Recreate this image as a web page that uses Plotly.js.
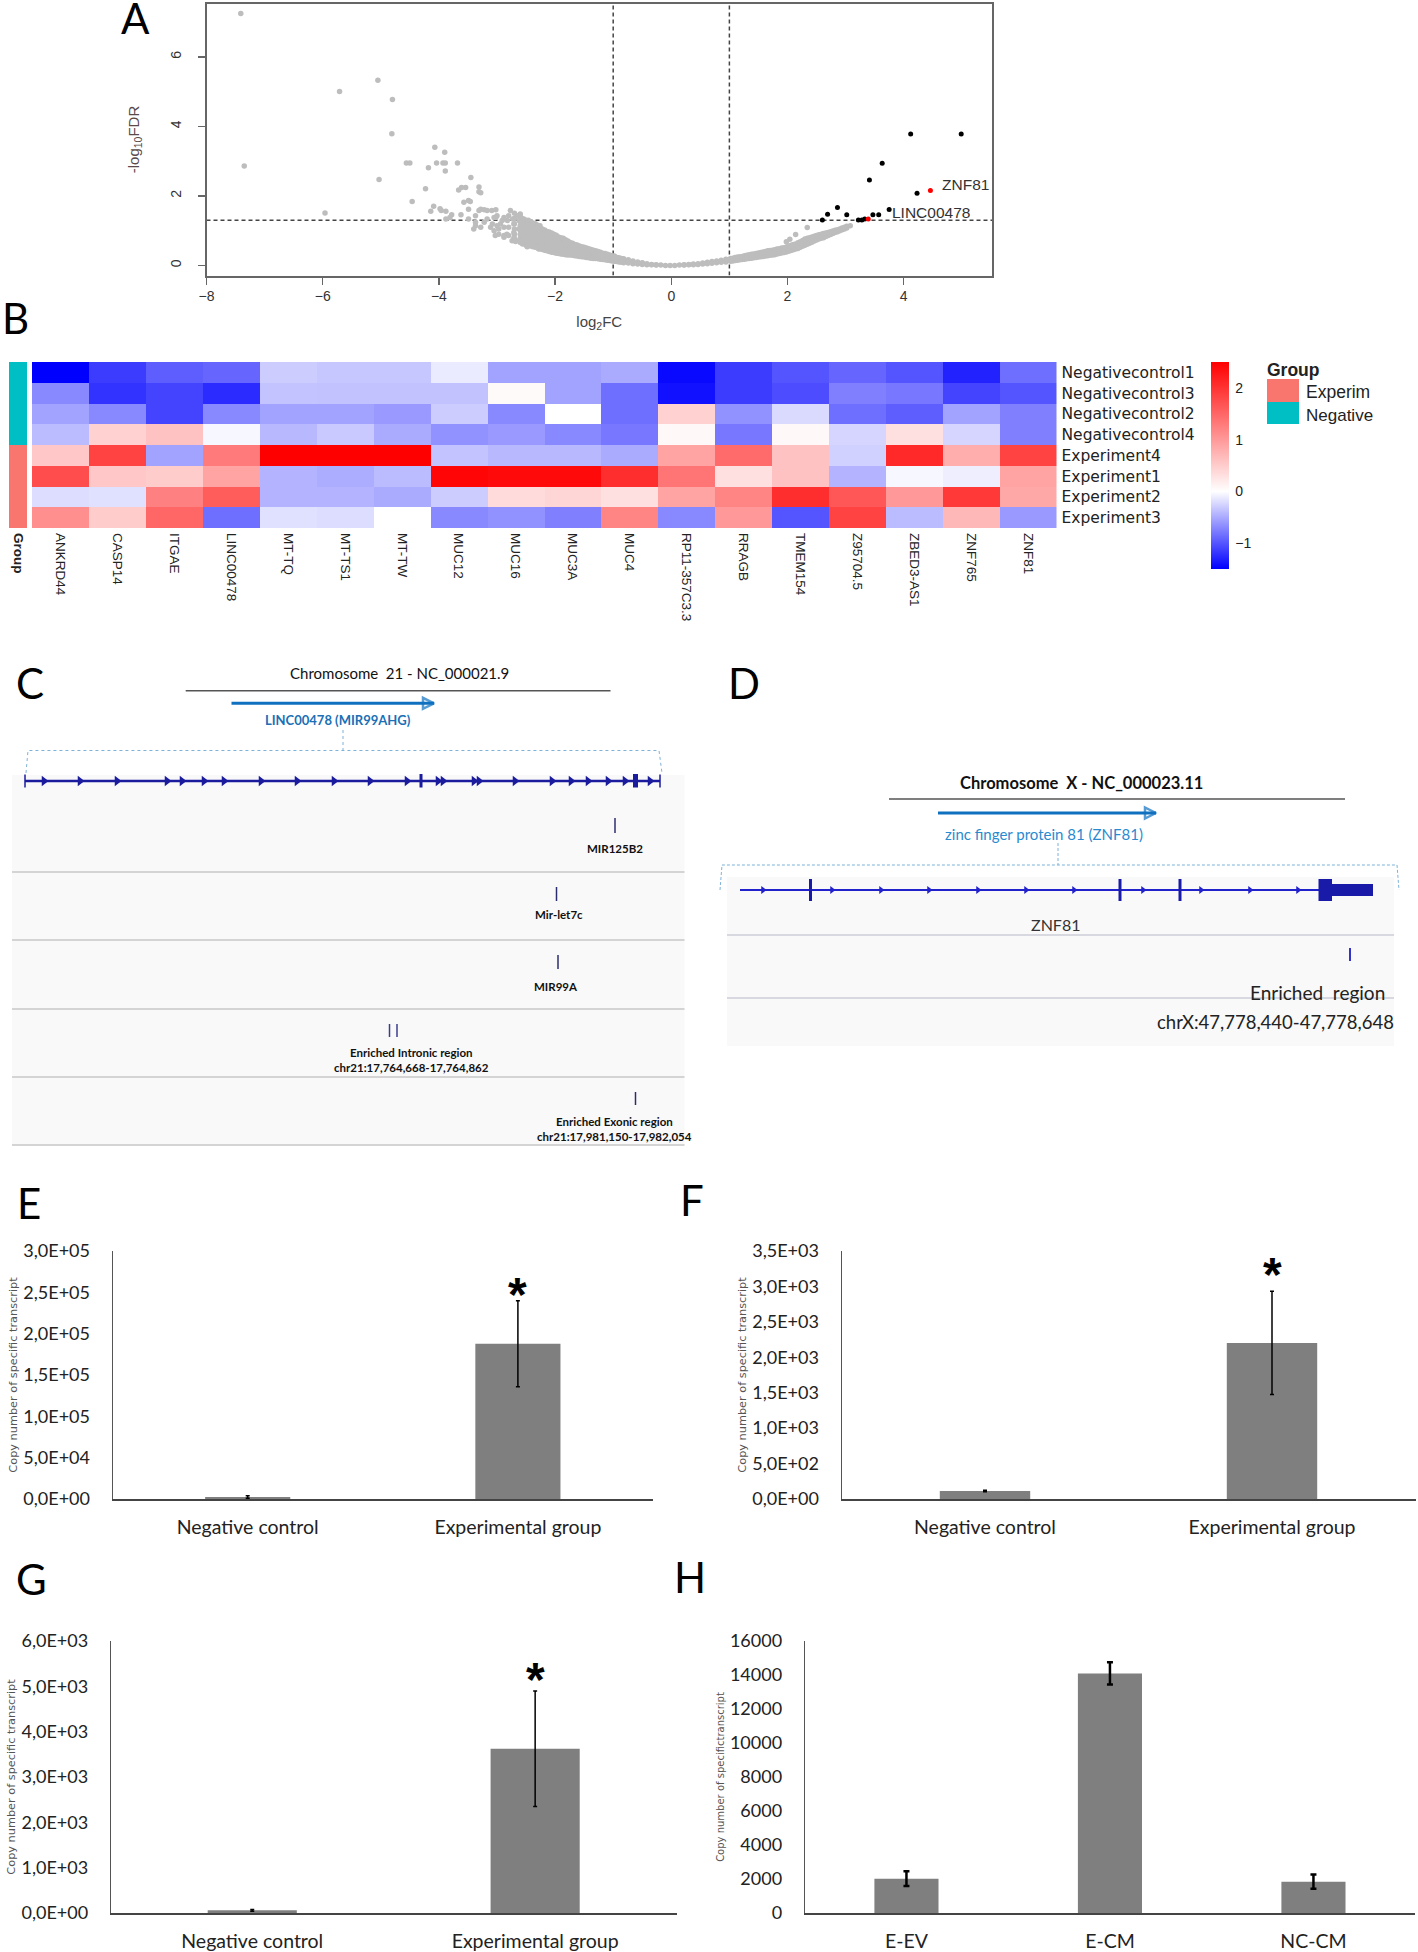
<!DOCTYPE html>
<html><head><meta charset="utf-8">
<script src="https://cdn.plot.ly/plotly-3.0.1.min.js"></script>
<style>html,body{margin:0;padding:0;background:#fff}#g{width:1418px;height:1952px}</style>
</head><body><div id="g"></div>
<script>
// ---------- Panel A: volcano ----------
const bandX = [-2.7,-2.6,-2.5,-2.42,-2.34,-2.26,-2.18,-2.1,-2.02,-1.94,-1.86,-1.78,-1.7,-1.62,-1.54,-1.46,-1.38,-1.3,-1.22,-1.14,-1.06,-.98,-.9,-.82,-.74,-.66,-.58,-.5,-.42,-.34,-.26,-.18,-.1,-.02,.06,.14,.22,.3,.38,.46,.54,.62,.7,.78,.86,.94,1.02,1.1,1.18,1.26,1.34,1.42,1.5,1.58,1.66,1.74,1.82,1.9,1.98,2.06,2.14,2.22,2.3,2.38,2.46,2.54,2.62,2.7,2.78,2.86,2.94,3.02,3.08];
const bandY = [[.78,.9,1.05,1.2,1.35,1.5],[.66,.78,.9,1.02,1.14,1.26,1.4,1.48],[.58,.7,.82,.94,1.06,1.18,1.3],[.56,.68,.8,.92,1.04,1.16,1.26],[.52,.64,.76,.88,1,1.12,1.2],[.48,.6,.72,.84,.96,1.08,1.14],[.44,.56,.68,.8,.92,1.02],[.4,.52,.64,.76,.88,.96],[.37,.49,.61,.73,.85,.9],[.34,.46,.58,.7,.82],[.32,.42,.52,.62,.72,.78],[.3,.4,.5,.6,.7],[.29,.38,.47,.56,.64],[.27,.35,.43,.51,.59],[.25,.33,.41,.49,.54],[.23,.3,.37,.44,.5],[.21,.28,.35,.42,.46],[.2,.26,.32,.38,.42],[.18,.24,.3,.36,.38],[.16,.22,.28,.34],[.14,.2,.26,.3],[.12,.18,.24,.27],[.1,.16,.22],[.08,.14,.19],[.07,.12,.16],[.05,.09,.13],[.04,.07,.1],[.03,.06,.08],[.02,.05],[.02,.03],[.01,.02],[.01],[0],[0],[0],[.01],[.01,.02],[.02,.03],[.02,.04],[.03,.05],[.04,.07],[.05,.09],[.06,.11],[.08,.13],[.09,.15],[.1,.18],[.12,.2],[.14,.23],[.16,.25],[.18,.28],[.2,.31],[.22,.33],[.24,.36],[.26,.39],[.28,.42],[.3,.44],[.33,.47],[.36,.5],[.39,.53],[.43,.58],[.47,.62],[.52,.68],[.58,.76],[.64,.8],[.7,.84],[.76,.88],[.8,.92],[.86,.95],[.92,.99],[.97,1.03],[1.03,1.08],[1.08,1.13],[1.14]];
const band2X = [-2.56,-2.46,-2.38,-2.3,-2.22,-2.14,-2.06,-1.98,-1.9,-1.82,-1.74,-1.66,-1.58,-1.5,-1.42,-1.34,-1.26,-1.18,-1.1,-1.02,-.94,-.86,1.06,1.14,1.22,1.3,1.38,1.46,1.54,1.62,1.7,1.78,1.86,1.94,2.02,2.1,2.18,2.26,2.34,2.42,2.5,2.58,2.66,2.74,2.82,2.9,2.98];
const band2Y = [[.62,.74,.86,.98,1.1,1.22,1.34],[.6,.72,.84,.96,1.08,1.2,1.3],[.54,.66,.78,.9,1.02,1.14,1.22],[.5,.62,.74,.86,.98,1.1,1.16],[.46,.58,.7,.82,.94,1.05],[.42,.54,.66,.78,.9,.98],[.38,.5,.62,.74,.86,.93],[.35,.47,.59,.71,.83,.87],[.33,.44,.55,.66,.77,.8],[.31,.41,.51,.61,.71,.74],[.3,.39,.48,.57,.66],[.28,.36,.44,.52,.6],[.26,.34,.42,.5,.56],[.24,.31,.38,.45,.52],[.22,.29,.36,.43,.48],[.2,.27,.33,.39,.44],[.19,.25,.31,.37,.4],[.17,.23,.29,.35],[.15,.21,.27,.32],[.13,.19,.25,.28],[.11,.17,.23],[.09,.15,.2],[.13,.21],[.15,.24],[.17,.26],[.19,.29],[.21,.32],[.23,.34],[.25,.37],[.27,.4],[.29,.43],[.31,.36,.45],[.34,.42,.48],[.37,.45,.51],[.41,.48,.56],[.45,.53,.6],[.49,.58,.65],[.55,.64,.72],[.61,.7,.78],[.67,.76,.82],[.73,.81,.86],[.78,.85,.9],[.83,.93],[.89,.97],[.95,1.01],[1,1.05],[1.05,1.1]];
const scatterX = [-7.41,-7.35,-5.96,-5.71,-5.05,-4.8,-4.81,-5.03,-4.07,-3.9,-4.56,-4.5,-4.04,-3.93,-3.89,-3.68,-4.18,-3.89,-3.45,-4.23,-3.66,-3.61,-3.54,-3.31,-3.31,-3.28,-4.46,-3.57,-3.49,-3.46,-4.09,-3.98,-3.96,-3.88,-4.14,-3.78,-3.62,-3.81,-3.88,-3.49,-3.28,-3.22,-3.31,-3.17,-3.09,-3.02,-3.49,-3.37,-3.37,-3.4,-3.37,-3.28,-3.22,-3.11,-3.03,-3.05,-2.94,-3.02,-2.88,-2.77,-2.8,-2.65,-2.59,-2.97,-2.88,-2.74,-2.83,-2.68,-2.48,-2.28,2.34,2.14,2.04,1.98,-3.17,-3.05,-3,-2.91,-2.82,-2.73,-2.71,-2.62,-2.54,-3.08,-3,-2.88,-2.8,-2.71,-2.62,-2.57,-2.48,-2.51,-2.97,-2.88,-2.8,-2.71,-2.62,-2.4,-2.31,-2.25];
const scatterY = [7.25,2.86,1.51,5.01,5.33,4.78,3.79,2.47,3.4,3.26,2.95,2.95,2.95,2.95,2.95,2.95,2.81,2.72,2.53,2.21,2.17,2.24,2.24,2.26,2.12,2.09,1.84,1.82,1.87,1.84,1.7,1.63,1.58,1.56,1.56,1.46,1.46,1.38,1.34,1.62,1.62,1.6,1.58,1.58,1.58,1.6,1.34,1.43,1.24,1.05,1.14,1.1,1.24,1.1,.86,1,1.19,1.38,1.38,1.58,1.43,1.43,1.38,1.05,.86,.71,.9,.69,.54,.47,1.09,.89,.75,.68,1.34,1.38,1.43,1.29,1.29,1.34,1.19,1.29,1.34,1.19,1.14,1.1,1.1,.95,1.05,.9,.81,1.1,.9,.81,.86,.79,.71,.62,.52,.71];
const sigX = [4.12,4.99,3.63,3.41,4.23,2.86,2.69,3.02,2.6,3.75,3.47,3.57,3.22,3.28,3.33];
const sigY = [3.78,3.78,2.94,2.46,2.08,1.67,1.47,1.46,1.31,1.61,1.46,1.46,1.31,1.31,1.34];
const redX = [4.46,3.39];
const redY = [2.16,1.34];
const fcCut = [-1,1];
const fdrCut = 1.3;

// ---------- Panel B: heatmap ----------
const genes = ["ANKRD44","CASP14","ITGAE","LINC00478","MT-TQ","MT-TS1","MT-TW","MUC12","MUC16","MUC3A","MUC4","RP11-357C3.3","RRAGB","TMEM154","Z95704.5","ZBED3-AS1","ZNF765","ZNF81"];
const samples = ["Negativecontrol1","Negativecontrol3","Negativecontrol2","Negativecontrol4","Experiment4","Experiment1","Experiment2","Experiment3"];
const heat = [
[-1.5,-1.15,-.95,-.9,-.3,-.33,-.33,-.12,-.55,-.55,-.5,-1.45,-1.15,-1,-.9,-1,-1.3,-.85],
[-.7,-1.2,-1.1,-1.25,-.35,-.36,-.36,-.36,.05,-.55,-.85,-1.4,-1.15,-1.05,-.75,-.8,-1.1,-1],
[-.55,-.7,-1.1,-.7,-.55,-.55,-.6,-.3,-.7,0,-.85,.45,-.65,-.22,-.85,-.95,-.55,-.75],
[-.4,.45,.6,-.05,-.42,-.32,-.5,-.65,-.6,-.7,-.8,.07,-.8,.07,-.25,.3,-.25,-.75],
[.55,1.85,-.55,1.3,2.5,2.5,2.5,-.35,-.42,-.42,-.5,.9,1.45,.6,-.27,2.1,.8,1.85],
[1.75,.55,.5,.9,-.45,-.48,-.4,2.45,2.4,2.4,2.05,1.35,.3,.6,-.45,-.05,-.1,.9],
[-.2,-.18,1.25,1.6,-.45,-.45,-.5,-.3,.35,.4,.3,.9,1.2,2.05,1.65,1,1.95,.85],
[1.1,.5,1.5,-.85,-.18,-.2,0,-.7,-.65,-.75,1.2,-.7,1,-1,1.85,-.4,.7,-.6]];
const groupCodes = [[0],[0],[0],[0],[1],[1],[1],[1]];
const groupNames = ["Experim","Negative"];
const barTicks = [-1,0,1,2];

// ---------- Panels E-H: bars ----------
const twoGroups = ["Negative control","Experimental group"];
const eVals = [2500,187700], eErr = [1500,52000];
const eTicks = [0,5e4,1e5,1.5e5,2e5,2.5e5,3e5], eText = ["0,0E+00","5,0E+04","1,0E+05","1,5E+05","2,0E+05","2,5E+05","3,0E+05"];
const fVals = [113,2203], fErr = [10,728];
const fTicks = [0,500,1000,1500,2000,2500,3000,3500], fText = ["0,0E+00","5,0E+02","1,0E+03","1,5E+03","2,0E+03","2,5E+03","3,0E+03","3,5E+03"];
const gVals = [59,3622], gErr = [20,1273];
const gTicks = [0,1000,2000,3000,4000,5000,6000], gText = ["0,0E+00","1,0E+03","2,0E+03","3,0E+03","4,0E+03","5,0E+03","6,0E+03"];
const hCats = ["E-EV","E-CM","NC-CM"];
const hVals = [2022,14095,1845], hErr = [440,660,420];
const hTicks = [0,2000,4000,6000,8000,10000,12000,14000,16000];

// ---------- Panels C, D: gene tracks (positions on the track scale) ----------
const cArrows = [44,80,117,167,182,204,224,261,297,334,370,407,438,443,474,479,515,552,571,588,608,625,650];
const cExons = [[421,3],[635.5,5]];
const cHits = [[615,818,833,"#2c2c70"],[556.5,887,901,"#2c2c70"],[558,955,969,"#2c2c70"],[389.5,1024,1037,"#3c3c90"],[397,1024,1037,"#3c3c90"],[635.5,1092,1105,"#2c2c70"]];
const cSeparators = [872,940,1009,1077,1145];
const dArrows = [763,832,881,929,978,1026,1074,1143,1201,1250,1298];
const dExons = [810.5,1120,1180];
const dSeparators = [935,998];

// ---------- helpers ----------
const W = 1418, H = 1952;
const dx = (a,b) => [a/W,b/W];
const dy = (a,b) => [1-b/H,1-a/H];
const LATO = "Lato, Carlito, sans-serif", ARIAL = "'Liberation Sans', Arial, sans-serif";
const traces = [], ann = [], shapes = [], layout = {};

function line(x,y,color,width,dash){ traces.push({type:"scatter",mode:"lines",x,y,xaxis:"x9",yaxis:"y9",hoverinfo:"skip",line:{color,width,dash:dash||"solid"}}); }
function txt(x,y,text,size,color,o){ ann.push(Object.assign({xref:"x9",yref:"y9",x,y,text,showarrow:false,xanchor:"center",yanchor:"middle",font:{family:LATO,size,color}},o||{})); }

// Panel letters
[["A",135,18],["C",30,683],["D",744,683],["E",29,1203],["F",692,1200],["G",31,1579],["H",690,1577]].forEach(p=>txt(p[1],p[2],p[0],42,"#000"));
txt(0,318,"B",42,"#000",{xanchor:"left"});

// Panel A
const grayX = bandX.flatMap((x,i)=>bandY[i].map(()=>x)).concat(band2X.flatMap((x,i)=>band2Y[i].map(()=>x))).concat(scatterX);
const grayY = bandY.flat().concat(band2Y.flat()).concat(scatterY);
const volcA = {xaxis:"x",yaxis:"y",hoverinfo:"skip"};
traces.push(Object.assign({type:"scatter",mode:"lines",x:[fcCut[0],fcCut[0],null,fcCut[1],fcCut[1],null,-8,5.52],y:[-.29,7.54,null,-.29,7.54,null,fdrCut,fdrCut],line:{color:"#444",width:1.5,dash:"4px,3px"}},volcA));
traces.push(Object.assign({type:"scatter",mode:"markers",x:grayX,y:grayY,marker:{color:"#bdbdbd",size:5.5}},volcA));
traces.push(Object.assign({type:"scatter",mode:"markers",x:sigX,y:sigY,marker:{color:"#000",size:5}},volcA));
traces.push(Object.assign({type:"scatter",mode:"markers",x:redX,y:redY,marker:{color:"#f00",size:5}},volcA));
layout.xaxis = {domain:dx(206.5,992),range:[-8,5.52],tickvals:[-8,-6,-4,-2,0,2,4],ticks:"outside",ticklen:7,tickcolor:"#666",tickwidth:1.5,showline:true,mirror:true,linecolor:"#666",linewidth:2,showgrid:false,zeroline:false,tickfont:{family:ARIAL,size:14,color:"#333"},title:{text:"log<sub>2</sub>FC",font:{family:ARIAL,size:15,color:"#444"},standoff:13},anchor:"y"};
layout.yaxis = {domain:dy(3.5,275.5),range:[-.29,7.54],tickvals:[0,2,4,6],ticks:"outside",ticklen:7,tickcolor:"#666",tickwidth:1.5,showline:true,mirror:true,linecolor:"#666",linewidth:2,showgrid:false,zeroline:false,tickangle:-90,ticklabelstandoff:11,tickfont:{family:ARIAL,size:14,color:"#333"},title:{text:"-log<sub>10</sub>FDR",font:{family:ARIAL,size:15,color:"#5a4a4a"},standoff:25},anchor:"x"};
ann.push({xref:"x",yref:"y",x:4.62,y:2.33,text:"ZNF81",showarrow:false,xanchor:"left",font:{family:ARIAL,size:15.5,color:"#333"}});
ann.push({xref:"x",yref:"y",x:3.76,y:1.53,text:"LINC00478",showarrow:false,xanchor:"left",font:{family:ARIAL,size:15.5,color:"#333"}});

// Panel B
traces.push({type:"heatmap",x:genes,y:samples,z:heat,xaxis:"x2",yaxis:"y2",zmin:-1.5,zmax:2.5,hoverinfo:"skip",
  colorscale:[[0,"#0000ff"],[.375,"#ffffff"],[1,"#ff0000"]],
  colorbar:{x:1211/W,xanchor:"left",y:1-362/H,yanchor:"top",lenmode:"pixels",len:207,thicknessmode:"pixels",thickness:18,xpad:0,ypad:0,outlinewidth:0,tickvals:barTicks,ticks:"outside",ticklen:4,tickcolor:"rgba(0,0,0,0)",tickfont:{family:ARIAL,size:14,color:"#222"}}});
traces.push({type:"heatmap",x:["Group"],y:samples,z:groupCodes,xaxis:"x3",yaxis:"y3",zmin:0,zmax:1,showscale:false,hoverinfo:"skip",colorscale:[[0,"#00BFC4"],[1,"#F8766D"]]});
layout.xaxis2 = {domain:dx(32,1056.5),anchor:"y2",tickangle:90,ticks:"",showgrid:false,zeroline:false,ticklabelstandoff:4,tickfont:{family:ARIAL,size:13.5,color:"#222"},tickmode:"array",tickvals:genes,ticktext:genes};
layout.yaxis2 = {domain:dy(362,528),anchor:"x2",side:"right",autorange:"reversed",ticks:"",showgrid:false,zeroline:false,ticklabelstandoff:4,tickfont:{family:"'DejaVu Sans',sans-serif",size:15.5,color:"#222"},tickmode:"array",tickvals:samples,ticktext:samples};
layout.xaxis3 = {domain:dx(9,27),anchor:"y3",tickangle:90,ticks:"",showgrid:false,zeroline:false,ticklabelstandoff:4,tickfont:{family:ARIAL,size:13.5,color:"#222",weight:700}};
layout.yaxis3 = {domain:dy(362,528),anchor:"x3",autorange:"reversed",showticklabels:false,ticks:"",showgrid:false,zeroline:false,type:"category"};
shapes.push({type:"rect",xref:"x9",yref:"y9",x0:1267,x1:1299,y0:379,y1:402,fillcolor:"#F8766D",line:{width:0}});
shapes.push({type:"rect",xref:"x9",yref:"y9",x0:1267,x1:1299,y0:402,y1:424,fillcolor:"#00BFC4",line:{width:0}});
txt(1265,370,"<b>Group</b>",17.5,"#222",{xanchor:"left",font:{family:ARIAL,size:17.5,color:"#222"}});
txt(1304,392,groupNames[0],17.5,"#222",{xanchor:"left",font:{family:ARIAL,size:17.5,color:"#222"}});
txt(1304,415,groupNames[1],17,"#222",{xanchor:"left",font:{family:ARIAL,size:17,color:"#222"}});

// Panel C
shapes.push({type:"rect",layer:"below",xref:"x9",yref:"y9",x0:12,x1:684.5,y0:775,y1:1145,fillcolor:"#f9f9f9",line:{width:0}});
txt(399,672.7,"Chromosome  21 - NC_000021.9",15,"#111");
line([185.7,610.5],[690.7,690.7],"#555",1.5);
traces.push({type:"scatter",mode:"lines+markers",x:[231.5,434],y:[703.3,703.3],xaxis:"x9",yaxis:"y9",hoverinfo:"skip",line:{color:"#1070c0",width:3},marker:{size:[0,11],symbol:"arrow-right-open",color:"#1070c0",line:{color:"#1070c0",width:2.5}}});
txt(338,720,"<b>LINC00478 (MIR99AHG)</b>",13,"#1a6fb5");
line([343,343,null,26,28,659,662],[730,750.5,null,773,750.5,750.5,773],"#7fb2d8",1,"dot");
line([25,660],[781,781],"#1b1b9e",2.5);
line([25,25,null,660,660],[774.5,787.5,null,774.5,787.5],"#1b1b9e",1.5);
traces.push({type:"scatter",mode:"markers",x:cArrows,y:cArrows.map(()=>781),xaxis:"x9",yaxis:"y9",hoverinfo:"skip",marker:{symbol:"triangle-right",size:9,color:"#1b1b9e"}});
cExons.forEach(e=>line([e[0],e[0]],[774,787.5],"#1b1b9e",e[1]));
cHits.forEach(h=>line([h[0],h[0]],[h[1],h[2]],h[3],1.5));
cSeparators.forEach(y=>line([12,684.5],[y,y],"#d4d4d4",2));
txt(614.5,848,"<b>MIR125B2</b>",11.5,"#111");
txt(559,914.3,"<b>Mir-let7c</b>",11.5,"#111");
txt(556,986,"<b>MIR99A</b>",11.5,"#111");
txt(411,1052.7,"<b>Enriched Intronic region</b>",11.5,"#111");
txt(411,1067.3,"<b>chr21:17,764,668-17,764,862</b>",11.5,"#111");
txt(614.5,1121,"<b>Enriched Exonic region</b>",11.5,"#111");
txt(614.5,1136,"<b>chr21:17,981,150-17,982,054</b>",11.5,"#111");

// Panel D
shapes.push({type:"rect",layer:"below",xref:"x9",yref:"y9",x0:727,x1:1394,y0:877,y1:1046,fillcolor:"#f9f9f9",line:{width:0}});
txt(1081.5,782.7,"<b>Chromosome  X - NC_000023.11</b>",16.5,"#111");
line([889,1345],[799,799],"#555",1.5);
traces.push({type:"scatter",mode:"lines+markers",x:[938,1156],y:[813,813],xaxis:"x9",yaxis:"y9",hoverinfo:"skip",line:{color:"#1070c0",width:3},marker:{size:[0,11],symbol:"arrow-right-open",color:"#1070c0",line:{color:"#1070c0",width:2.5}}});
txt(1044,834,"zinc finger protein 81 (ZNF81)",15,"#2a8ad0");
line([1058,1058,null,720,722,1397,1399],[843,865,null,890,865,865,890],"#7fb2d8",1,"3px,2px");
line([740,1328],[890,890],"#2222cc",2);
traces.push({type:"scatter",mode:"markers",x:dArrows,y:dArrows.map(()=>890),xaxis:"x9",yaxis:"y9",hoverinfo:"skip",marker:{symbol:"triangle-right",size:7,color:"#2222cc"}});
dExons.forEach(x=>line([x,x],[879,901],"#1a1aa8",3));
line([1318.5,1332],[890,890],"#1a1aa8",22);
line([1332,1373],[890,890],"#1a1aa8",12);
dSeparators.forEach(y=>line([727,1394],[y,y],"#d8d8e0",2));
line([1350,1350],[948,961],"#3333cc",2);
txt(1055,924,"ZNF81",16,"#333");
txt(1317,992,"Enriched  region",19,"#222");
txt(1275,1021.7,"chrX:47,778,440-47,778,648",18.5,"#222");

// Bar panels
function barPanel(n,cats,vals,errs,ticks,text,xa,ya,title,capW,thick,titleSize,stand){
  traces.push({type:"bar",x:cats,y:vals,xaxis:"x"+n,yaxis:"y"+n,hoverinfo:"skip",marker:{color:"#7f7f7f",line:{width:0}},
    error_y:{type:"data",array:errs,visible:true,color:"#000",thickness:thick,width:capW}});
  layout["xaxis"+n] = {domain:dx(xa[0],xa[1]),anchor:"y"+n,type:"category",showline:true,linecolor:"#444",linewidth:1.5,ticks:"",showgrid:false,zeroline:false,ticklabelstandoff:10,tickfont:{family:LATO,size:19.5,color:"#222"}};
  layout["yaxis"+n] = {domain:dy(ya[0],ya[1]),anchor:"x"+n,range:[0,ticks[ticks.length-1]],tickmode:"array",tickvals:ticks,ticktext:text,showline:true,linecolor:"#555",linewidth:1,ticks:"",showgrid:false,zeroline:false,ticklabelstandoff:18,tickfont:{family:LATO,size:18,color:"#222"},title:{text:title,standoff:stand,font:{family:"'DejaVu Sans',sans-serif",size:titleSize,color:"#555"}}};
}
const copyTitle = "Copy number of specific transcript";
barPanel(4,twoGroups,eVals,eErr,eTicks,eText,[112.6,653],[1251,1499],copyTitle,2,1.5,11.3,3);
barPanel(5,twoGroups,fVals,fErr,fTicks,fText,[841.5,1415.5],[1251,1499],copyTitle,2,1.5,11.3,3);
barPanel(6,twoGroups,gVals,gErr,gTicks,gText,[110.8,676.6],[1641,1913],copyTitle,2,1.5,11.3,3);
barPanel(7,hCats,hVals,hErr,hTicks,hTicks.map(String),[804.7,1415.2],[1641,1913],"Copy number of specifictranscript",3,2.5,10,3);
layout.bargap = .685;
[[4,255000],[5,3260],[6,5294]].forEach(s=>ann.push({xref:"x"+s[0],yref:"y"+s[0],x:"Experimental group",y:s[1],yshift:-6,text:"*",showarrow:false,font:{family:ARIAL,size:48,color:"#000",weight:700}}));

// overlay axes for tracks
layout.xaxis9 = {domain:[0,1],range:[0,W],visible:false,fixedrange:true,anchor:"y9"};
layout.yaxis9 = {domain:[0,1],range:[H,0],visible:false,fixedrange:true,anchor:"x9"};

Object.assign(layout,{width:W,height:H,margin:{l:0,r:0,t:0,b:0,pad:0},paper_bgcolor:"#fff",plot_bgcolor:"rgba(0,0,0,0)",showlegend:false,annotations:ann,shapes:shapes,hovermode:false});
Plotly.newPlot("g",traces,layout,{displayModeBar:false,staticPlot:true});
</script></body></html>
